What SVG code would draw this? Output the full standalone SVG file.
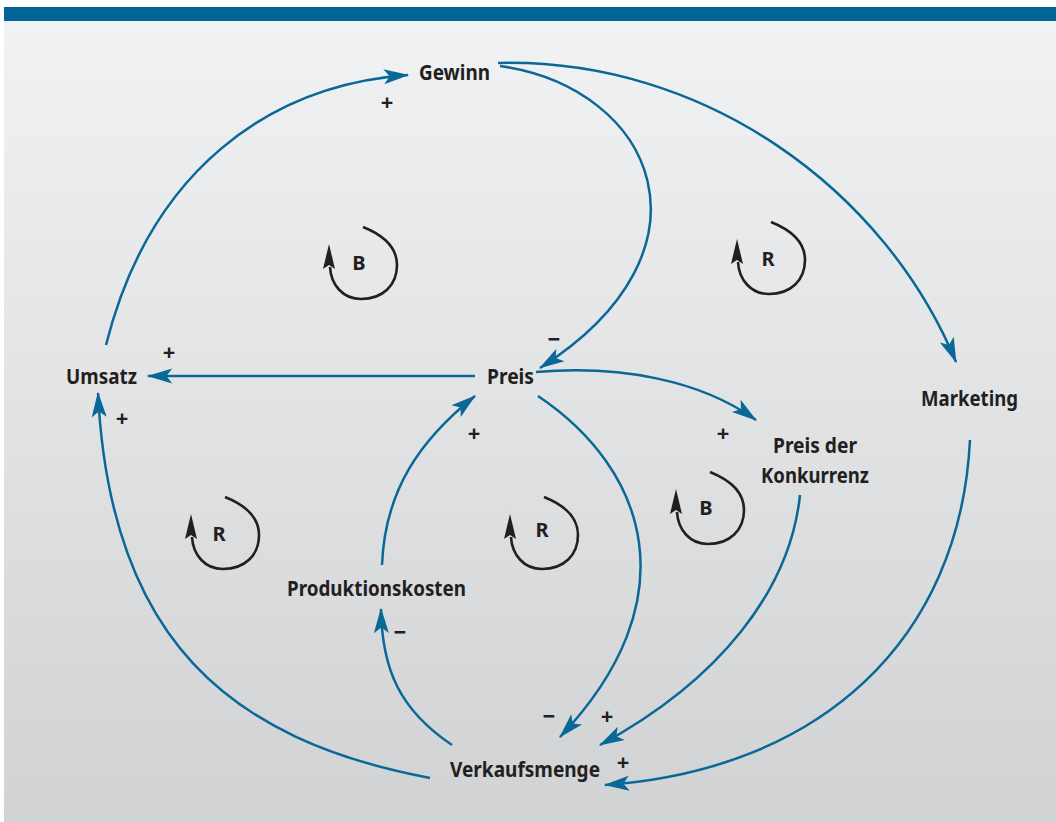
<svg xmlns="http://www.w3.org/2000/svg" width="1056" height="822" viewBox="0 0 1056 822">
<defs>
<linearGradient id="bg" x1="0" y1="0" x2="0" y2="1">
<stop offset="0" stop-color="#f1f2f3"/>
<stop offset="1" stop-color="#d0d2d4"/>
</linearGradient>
<marker id="ah" markerUnits="userSpaceOnUse" markerWidth="30" markerHeight="20" viewBox="-2 -8 26 16" refX="21" refY="0" orient="auto">
<path d="M0,-6.5 L22,0 L0,6.5 L5,0 Z" fill="#0a6898"/>
</marker>
<g id="loop">
<path d="M4,-36 C24,-28 38,-16 38,2 C38,22 24,36 2,36 C-16,36 -28,22 -29,4" fill="none" stroke="#231f20" stroke-width="2.6"/>
<path d="M-30,-19 L-24,6 L-30,2 L-36,6 Z" fill="#231f20"/>
</g>
</defs>
<style>
.lbl{font-family:"Noto Sans","Open Sans",sans-serif;font-weight:700;font-size:21px;fill:#231f20;text-anchor:middle}
.sg{font-family:"Noto Sans","Open Sans",sans-serif;font-weight:700;font-size:22px;fill:#231f20;text-anchor:middle}
.lp{font-family:"Noto Sans","Open Sans",sans-serif;font-weight:700;font-size:20px;fill:#231f20;text-anchor:middle}
.c{fill:none;stroke:#0a6898;stroke-width:2.5;marker-end:url(#ah)}
</style>
<rect x="0" y="0" width="1056" height="822" fill="#ffffff"/>
<rect x="4" y="21" width="1052" height="801" fill="url(#bg)"/>
<rect x="4" y="7" width="1052" height="14" fill="#006494"/>

<g id="connectors">
<path class="c" d="M106,345 C150,170 270,85 408,75"/>
<path class="c" d="M500,66 C655,88 725,250 540,368"/>
<path class="c" d="M498,63 C705,58 885,190 956,362"/>
<path class="c" d="M475,376 L148,376"/>
<path class="c" d="M536,372 C620,365 700,380 756,420"/>
<path class="c" d="M538,396 C648,470 690,600 560,737"/>
<path class="c" d="M382,565 C385,490 420,440 475,396"/>
<path class="c" d="M452,745 C400,710 382,670 381,609"/>
<path class="c" d="M430,778 C230,740 110,640 98,393"/>
<path class="c" d="M800,495 C790,590 720,680 600,745"/>
<path class="c" d="M970,440 C960,640 820,770 605,785"/>
</g>

<g id="Gewinn"><text class="lbl" x="454.5" y="80" textLength="71" lengthAdjust="spacingAndGlyphs">Gewinn</text></g>
<g id="Umsatz"><text class="lbl" x="101.5" y="384" textLength="71" lengthAdjust="spacingAndGlyphs">Umsatz</text></g>
<g id="Preis"><text class="lbl" x="510.5" y="384" textLength="47" lengthAdjust="spacingAndGlyphs">Preis</text></g>
<g id="Marketing"><text class="lbl" x="969.5" y="406" textLength="97" lengthAdjust="spacingAndGlyphs">Marketing</text></g>
<g id="PreisDerKonkurrenz">
<text class="lbl" x="815" y="453" textLength="84" lengthAdjust="spacingAndGlyphs">Preis der</text>
<text class="lbl" x="815" y="483" textLength="108" lengthAdjust="spacingAndGlyphs">Konkurrenz</text>
</g>
<g id="Produktionskosten"><text class="lbl" x="376.5" y="596" textLength="179" lengthAdjust="spacingAndGlyphs">Produktionskosten</text></g>
<g id="Verkaufsmenge"><text class="lbl" x="525" y="777" textLength="150" lengthAdjust="spacingAndGlyphs">Verkaufsmenge</text></g>

<g id="signs">
<text class="sg" x="387" y="110">+</text>
<text class="sg" x="554" y="347">−</text>
<text class="sg" x="169" y="360">+</text>
<text class="sg" x="122" y="426">+</text>
<text class="sg" x="474" y="441">+</text>
<text class="sg" x="723" y="441">+</text>
<text class="sg" x="400" y="640">−</text>
<text class="sg" x="549" y="724">−</text>
<text class="sg" x="607" y="724">+</text>
<text class="sg" x="623" y="770">+</text>
</g>

<g id="loopB1"><use href="#loop" x="359" y="263"/><text class="lp" x="359" y="270">B</text></g>
<g id="loopR1"><use href="#loop" x="767" y="258"/><text class="lp" x="768" y="266">R</text></g>
<g id="loopB2"><use href="#loop" x="706" y="508"/><text class="lp" x="706" y="515">B</text></g>
<g id="loopR2"><use href="#loop" x="221" y="533"/><text class="lp" x="219" y="541">R</text></g>
<g id="loopR3"><use href="#loop" x="540" y="533"/><text class="lp" x="542" y="537">R</text></g>
</svg>
